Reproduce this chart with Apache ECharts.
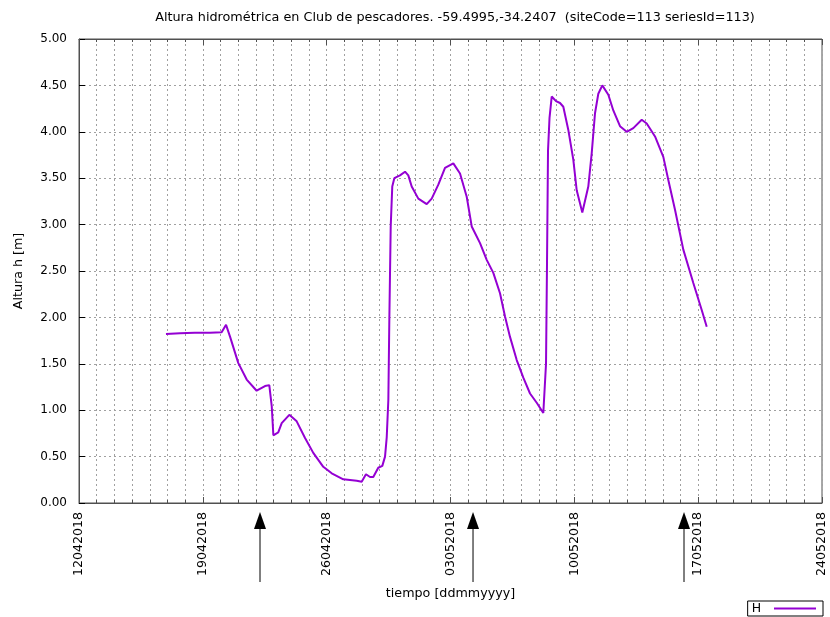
<!DOCTYPE html>
<html>
<head>
<meta charset="utf-8">
<script src="https://cdn.jsdelivr.net/npm/echarts@6/dist/echarts.min.js"></script>
<style>
  html, body { margin: 0; padding: 0; background: #fff; }
  #main { width: 830px; height: 617px; }
</style>
</head>
<body>
<div id="main"></div>
<script>
// lecturas H (altura hidrometrica)
const times = [
  '2018-04-16 22:00', '2018-04-17 17:00', '2018-04-18 13:00', '2018-04-19 09:45', '2018-04-20 01:30',
  '2018-04-20 07:30', '2018-04-20 13:00', '2018-04-21 00:00', '2018-04-21 11:30', '2018-04-22 01:00',
  '2018-04-22 12:20', '2018-04-22 18:10', '2018-04-22 21:30', '2018-04-22 23:40', '2018-04-23 06:20',
  '2018-04-23 11:00', '2018-04-23 21:20', '2018-04-24 07:20', '2018-04-24 18:40', '2018-04-25 05:50',
  '2018-04-25 19:25', '2018-04-26 06:50', '2018-04-26 22:35', '2018-04-27 16:45', '2018-04-27 23:30',
  '2018-04-28 05:20', '2018-04-28 10:50', '2018-04-28 15:15', '2018-04-28 22:00', '2018-04-29 03:30',
  '2018-04-29 07:10', '2018-04-29 09:30', '2018-04-29 11:40', '2018-04-29 13:00', '2018-04-29 14:53',
  '2018-04-29 17:00', '2018-04-29 19:47', '2018-04-30 03:30', '2018-04-30 10:18', '2018-04-30 14:45',
  '2018-04-30 19:22', '2018-05-01 04:20', '2018-05-01 15:43', '2018-05-01 22:30', '2018-05-02 07:28',
  '2018-05-02 16:33', '2018-05-03 03:50', '2018-05-03 12:55', '2018-05-03 22:00', '2018-05-04 04:47',
  '2018-05-04 16:03', '2018-05-05 01:08', '2018-05-05 10:05', '2018-05-05 19:10', '2018-05-06 01:58',
  '2018-05-06 08:44', '2018-05-06 17:50', '2018-05-07 02:47', '2018-05-07 11:53', '2018-05-07 20:58',
  '2018-05-08 05:55', '2018-05-08 09:35', '2018-05-08 10:57', '2018-05-08 12:18', '2018-05-08 14:20',
  '2018-05-08 17:18', '2018-05-08 23:08', '2018-05-09 04:34', '2018-05-09 09:03', '2018-05-09 15:50',
  '2018-05-09 22:36', '2018-05-10 03:13', '2018-05-10 10:49', '2018-05-10 18:57', '2018-05-10 23:35',
  '2018-05-11 04:03', '2018-05-11 08:32', '2018-05-11 13:58', '2018-05-11 22:07', '2018-05-12 04:53',
  '2018-05-12 13:58', '2018-05-12 23:04', '2018-05-13 08:01', '2018-05-13 19:25', '2018-05-14 02:12',
  '2018-05-14 13:28', '2018-05-15 00:43', '2018-05-15 07:30', '2018-05-15 16:35', '2018-05-16 03:51',
  '2018-05-16 17:25', '2018-05-17 04:49', '2018-05-17 11:37'
];
const heights = [
  1.82, 1.83, 1.835, 1.835, 1.84,
  1.92, 1.79, 1.51, 1.33, 1.21,
  1.26, 1.27, 1.04, 0.73, 0.76,
  0.86, 0.95, 0.88, 0.70, 0.54,
  0.39, 0.32, 0.255, 0.24, 0.23,
  0.31, 0.28, 0.28, 0.38, 0.40,
  0.50, 0.71, 1.11, 1.97, 2.98,
  3.41, 3.50, 3.53, 3.57, 3.53,
  3.41, 3.28, 3.22, 3.28, 3.43,
  3.61, 3.66, 3.55, 3.30, 2.98,
  2.80, 2.62, 2.48, 2.26, 2.01,
  1.79, 1.54, 1.35, 1.18, 1.08,
  0.97, 1.50, 2.60, 3.80, 4.15,
  4.38, 4.33, 4.31, 4.27, 4.02,
  3.70, 3.37, 3.13, 3.41, 3.77,
  4.20, 4.41, 4.50, 4.40, 4.23,
  4.06, 4.00, 4.04, 4.13, 4.09,
  3.95, 3.73, 3.48, 3.16, 2.73,
  2.37, 2.08, 1.90
];
// flechas bajo el eje x
const arrowTimes = ['2018-04-22 05:34', '2018-05-04 06:33', '2018-05-16 04:48'];

const DAY = 86400000;
const xStart = '2018-04-12 00:00';
const xEnd = '2018-05-24 00:00';

function toUTC(s) {
    const [d, t] = s.split(' ');
    const [Y, M, D] = d.split('-').map(Number);
    const [h, m] = t.split(':').map(Number);
    return Date.UTC(Y, M - 1, D, h, m);
}

function ddmmyyyy(v) {
    const d = new Date(v);
    const p = n => (n < 10 ? '0' : '') + n;
    return p(d.getUTCDate()) + p(d.getUTCMonth() + 1) + d.getUTCFullYear();
}

const font = 'DejaVu Sans';
const gridLine = { color: '#a0a0a0', width: 1, type: [2, 3] };
const frame = { color: '#505050', width: 1 };

const chart = echarts.init(document.getElementById('main'));

const option = {
    animation: false,
    backgroundColor: '#fff',
    title: {
        text: 'Altura hidrométrica en Club de pescadores. -59.4995,-34.2407  (siteCode=113 seriesId=113)',
        left: 450,
        textAlign: 'center',
        top: 6,
        textStyle: { fontFamily: font, fontSize: 12.8, fontWeight: 'normal', color: '#000' }
    },
    grid: {
        left: 79, right: 8, top: 39, bottom: 114,
        show: true, borderColor: '#505050', borderWidth: 1
    },
    legend: {
        data: ['H'],
        right: 7,
        bottom: 1,
        align: 'right',
        icon: 'rect',
        itemWidth: 42,
        itemHeight: 2,
        padding: [1, 7, 1, 4],
        borderColor: '#000',
        borderWidth: 1,
        borderRadius: 0,
        formatter: name => name + '  ',
        textStyle: { fontFamily: font, fontSize: 12.5, color: '#000' }
    },
    xAxis: [{
        type: 'value',
        min: toUTC(xStart),
        max: toUTC(xEnd),
        interval: 7 * DAY,
        name: 'tiempo [ddmmyyyy]',
        nameLocation: 'middle',
        nameGap: 84,
        nameTextStyle: { fontFamily: font, fontSize: 12.7, color: '#000' },
        axisLine: { show: true, lineStyle: frame },
        axisTick: { show: true, inside: true, length: 6, lineStyle: frame },
        minorTick: { show: true, splitNumber: 7, length: 3, lineStyle: frame },
        axisLabel: {
            rotate: 90, margin: 9, formatter: ddmmyyyy,
            fontFamily: font, fontSize: 12.6, color: '#000'
        },
        splitLine: { show: true, lineStyle: gridLine },
        minorSplitLine: { show: true, lineStyle: gridLine }
    }, {
        type: 'value',
        position: 'top',
        min: toUTC(xStart),
        max: toUTC(xEnd),
        interval: 7 * DAY,
        axisLine: { show: true, lineStyle: frame },
        axisTick: { show: true, inside: true, length: 6, lineStyle: frame },
        minorTick: { show: true, splitNumber: 7, length: 3, lineStyle: frame },
        axisLabel: { show: false },
        splitLine: { show: false }
    }],
    yAxis: {
        type: 'value',
        min: 0,
        max: 5,
        interval: 0.5,
        name: 'Altura h [m]',
        nameLocation: 'middle',
        nameRotate: 90,
        nameGap: 54,
        nameTextStyle: { fontFamily: font, fontSize: 12.7, color: '#000' },
        axisLine: { show: true, lineStyle: frame },
        axisTick: { show: true, inside: true, length: 6, lineStyle: { color: '#000' } },
        axisLabel: {
            margin: 12, formatter: v => v.toFixed(2),
            fontFamily: font, fontSize: 12, color: '#000'
        },
        splitLine: { show: true, lineStyle: gridLine }
    },
    series: [{
        name: 'H',
        type: 'line',
        xAxisIndex: 0,
        showSymbol: false,
        symbol: 'none',
        color: '#9400d3',
        lineStyle: { color: '#9400d3', width: 2 },
        data: times.map((t, i) => [toUTC(t), heights[i]])
    }]
};

chart.setOption(option);

// flechas: x desde la escala del eje
const tipY = 512, headY = 529, baseY = 582, halfW = 6;
const arrows = [];
arrowTimes.forEach(t => {
    const x = chart.convertToPixel({ xAxisIndex: 0 }, toUTC(t));
    arrows.push({
        type: 'line',
        shape: { x1: x, y1: headY, x2: x, y2: baseY },
        style: { stroke: '#000', lineWidth: 1 }
    });
    arrows.push({
        type: 'polygon',
        shape: { points: [[x - halfW, headY], [x + halfW, headY], [x, tipY]] },
        style: { fill: '#000' }
    });
});
chart.setOption({ graphic: arrows });
</script>
</body>
</html>
